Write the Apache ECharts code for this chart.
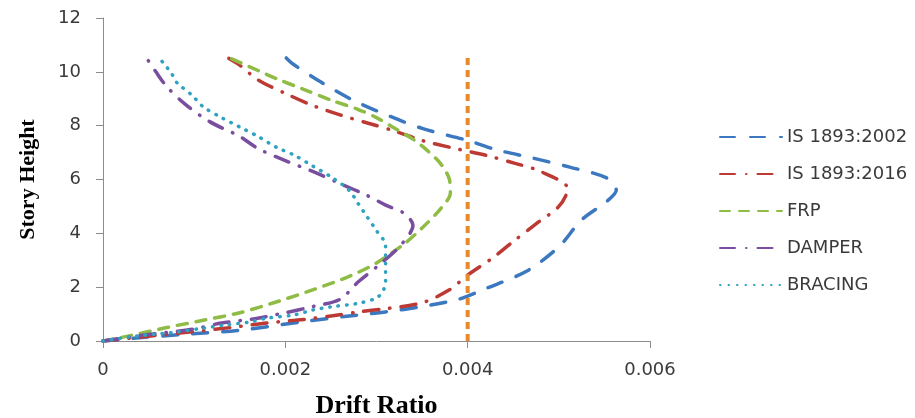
<!DOCTYPE html>
<html><head><meta charset="utf-8">
<script src="https://cdn.jsdelivr.net/npm/echarts@6/dist/echarts.min.js"></script>
<style>html,body{margin:0;padding:0;background:#fff}#c{width:915px;height:418px}</style>
</head><body><div id="c"></div>
<script>
// Names and values: [drift ratio, story height]
const seriesNames = ['IS 1893:2002', 'IS 1893:2016', 'FRP', 'DAMPER', 'BRACING'];
const xTicks = [0, 0.002, 0.004, 0.006];
const yTicks = [0, 2, 4, 6, 8, 10, 12];

const is2002 = [[0,0],[0.0004,0.12],[0.0009,0.25],[0.0015,0.4],[0.0022,0.72],[0.0027,0.93],[0.0031,1.08],[0.0035,1.28],[0.0039,1.55],[0.0042,1.95],[0.00465,2.6],[0.0050,3.5],[0.00525,4.5],[0.00553,5.2],[0.00563,5.6],[0.00553,6.05],[0.00512,6.46],[0.00471,6.8],[0.00432,7.1],[0.0040,7.45],[0.0035,7.9],[0.00311,8.4],[0.00274,8.95],[0.0024,9.6],[0.00208,10.3],[0.0020,10.55]];
const is2016 = [[0,0],[0.0005,0.18],[0.00095,0.33],[0.0014,0.5],[0.0018,0.67],[0.0022,0.8],[0.0025,0.93],[0.0028,1.08],[0.0031,1.2],[0.0035,1.42],[0.0038,1.9],[0.0040,2.45],[0.00428,3.1],[0.0045,3.7],[0.00475,4.35],[0.0050,5.0],[0.0051,5.65],[0.0048,6.3],[0.00452,6.6],[0.0042,6.9],[0.0038,7.2],[0.0035,7.45],[0.0032,7.8],[0.0029,8.1],[0.0026,8.4],[0.0023,8.75],[0.0020,9.2],[0.0017,9.7],[0.0015,10.25],[0.00138,10.5]];
const frp = [[0,0],[0.0003,0.2],[0.0007,0.5],[0.0011,0.77],[0.0015,1.05],[0.0019,1.45],[0.0023,1.9],[0.0027,2.4],[0.0030,2.9],[0.0033,3.6],[0.0035,4.2],[0.0037,4.9],[0.00381,5.5],[0.0038,6.0],[0.0037,6.6],[0.00355,7.1],[0.0034,7.5],[0.0032,7.9],[0.0030,8.3],[0.0028,8.6],[0.0025,8.95],[0.0022,9.35],[0.0019,9.75],[0.0017,10.05],[0.0014,10.5]];
const damper = [[0,0],[0.0004,0.2],[0.0010,0.45],[0.0013,0.67],[0.00165,0.82],[0.0020,1.05],[0.0023,1.28],[0.0026,1.55],[0.0028,2.2],[0.0030,2.75],[0.00325,3.5],[0.0034,4.3],[0.0033,4.75],[0.0031,5.05],[0.0029,5.4],[0.0026,5.85],[0.0023,6.3],[0.0020,6.7],[0.0017,7.15],[0.0015,7.6],[0.00117,8.15],[0.0009,8.8],[0.0007,9.45],[0.00058,10.0],[0.00048,10.5]];
const bracing = [[0,0],[0.0004,0.2],[0.0008,0.33],[0.0011,0.48],[0.00135,0.6],[0.0016,0.7],[0.0018,0.85],[0.0021,0.97],[0.0023,1.15],[0.0025,1.27],[0.0028,1.4],[0.0030,1.6],[0.00307,1.85],[0.0031,2.2],[0.0031,2.9],[0.0031,3.55],[0.0030,4.1],[0.0029,4.6],[0.0028,5.1],[0.0027,5.6],[0.0025,6.1],[0.0023,6.5],[0.0021,6.9],[0.0019,7.2],[0.0017,7.6],[0.0015,7.95],[0.0013,8.3],[0.0011,8.7],[0.00097,9.15],[0.00081,9.6],[0.00075,9.95],[0.00068,10.25],[0.00062,10.5]];
const driftLimit = [[0.004,0],[0.004,10.55]];

const chart = echarts.init(document.getElementById('c'));
const labelFont = {fontFamily: 'DejaVu Sans', fontSize: 18, color: '#3a3a3a'};
const titleFont = {fontFamily: 'Liberation Serif', fontWeight: 'bold', color: '#000'};
function line(name, data, color, dash, width) {
  return {name, type: 'line', data, smooth: 0.3, symbol: 'none', silent: true,
    lineStyle: {color, width: width || 3.5, type: dash, cap: 'round', join: 'round'},
    itemStyle: {color}};
}
chart.setOption({
  animation: false,
  backgroundColor: '#fff',
  grid: {left: 103, right: 265, top: 18, bottom: 77, containLabel: false, outerBoundsMode: 'none'},
  legend: {
    data: seriesNames, orient: 'vertical', left: 714, top: 123,
    itemWidth: 62, itemHeight: 16, itemGap: 19,
    itemStyle: {opacity: 0},
    textStyle: labelFont
  },
  xAxis: {
    type: 'value', min: 0, max: 0.006, interval: 0.002,
    name: 'Drift Ratio', nameLocation: 'middle', nameGap: 52,
    nameTextStyle: Object.assign({}, titleFont, {fontSize: 26}),
    axisLine: {show: true, lineStyle: {color: '#8c8c8c', width: 1}},
    axisTick: {show: true, length: 7, lineStyle: {color: '#8c8c8c'}},
    axisLabel: Object.assign({}, labelFont, {margin: 20, formatter: v => String(+v.toFixed(3))}),
    splitLine: {show: false}
  },
  yAxis: {
    type: 'value', min: 0, max: 12, interval: 2,
    name: 'Story Height', nameLocation: 'middle', nameGap: 64, nameRotate: 90,
    nameTextStyle: Object.assign({}, titleFont, {fontSize: 22}),
    axisLine: {show: true, lineStyle: {color: '#8c8c8c', width: 1}},
    axisTick: {show: true, length: 7, lineStyle: {color: '#8c8c8c'}},
    axisLabel: Object.assign({}, labelFont, {margin: 22}),
    splitLine: {show: false}
  },
  series: [
    line('IS 1893:2002', is2002, '#3b78c0', [15, 15]),
    line('IS 1893:2016', is2016, '#bd3934', [15, 11, 0.5, 11]),
    line('FRP', frp, '#8fbc45', [10, 9]),
    line('DAMPER', damper, '#7a4e9f', [15, 11, 0.5, 11]),
    line('BRACING', bracing, '#2fa2c1', [0.5, 8]),
    {name: 'limit', type: 'line', data: driftLimit, symbol: 'none', silent: true,
     lineStyle: {color: '#e9892c', width: 4, type: [7, 5]}}
  ]
});
</script></body></html>
